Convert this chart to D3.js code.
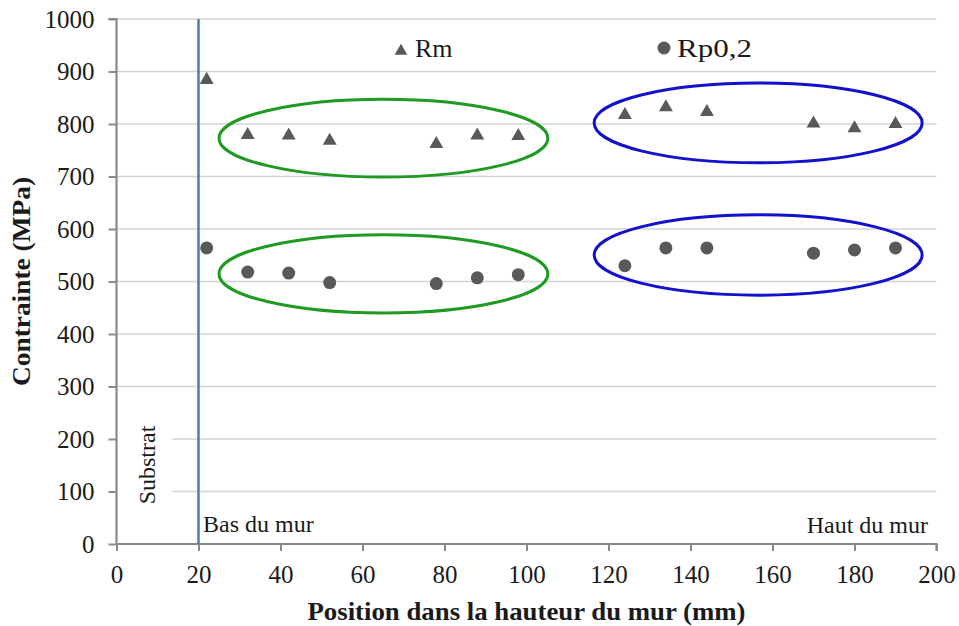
<!DOCTYPE html>
<html>
<head>
<meta charset="utf-8">
<script src="https://cdn.jsdelivr.net/npm/d3@7"></script>
<style>
  html, body { margin: 0; padding: 0; background: #fff; }
  svg { display: block; }
  text { font-family: "Liberation Serif", "Times New Roman", serif; fill: #1a1a1a; }
</style>
</head>
<body>
<svg id="chart" width="959" height="626"></svg>
<script>
// ---- data ----
const positions = [22, 32, 42, 52, 78, 88, 98, 124, 134, 144, 170, 180, 190];
const rmValues  = [884, 779, 778, 768, 762, 778, 777, 817, 832, 823, 801, 792, 800];
const rpValues  = [564, 518, 516, 498, 496, 507, 513, 530, 564, 564, 554, 560, 564];
const xTicks = [0, 20, 40, 60, 80, 100, 120, 140, 160, 180, 200];
const yTicks = [0, 100, 200, 300, 400, 500, 600, 700, 800, 900, 1000];
const substratPosition = 20;
// grouped zones (data units): xMin, xMax, yMin, yMax
const zoneGroups   = ["bas", "bas", "haut", "haut"];
const zoneXMin = [25, 25, 116.5, 116.5];
const zoneXMax = [105.2, 105.2, 196.5, 196.5];
const zoneYMin = [699, 440, 726, 474];
const zoneYMax = [847, 589, 878, 627];

// ---- layout ----
const W = 959, H = 626;
const margin = { top: 19, right: 22.5, bottom: 82, left: 116.5 };
const iw = W - margin.left - margin.right;
const ih = H - margin.top - margin.bottom;

const svg = d3.select("#chart");
const g = svg.append("g").attr("transform", `translate(${margin.left},${margin.top})`);

const x = d3.scaleLinear().domain([0, 200]).range([0, iw]);
const y = d3.scaleLinear().domain([0, 1000]).range([ih, 0]);

// gridlines
g.append("g").selectAll("line").data(yTicks.filter(d => d > 0)).join("line")
  .attr("x1", 0).attr("x2", iw)
  .attr("y1", d => y(d)).attr("y2", d => y(d))
  .attr("stroke", "#d3d3d3").attr("stroke-width", 1.6);

// white box behind "Substrat"
g.append("rect")
  .attr("x", 1).attr("y", y(235)).attr("width", 55).attr("height", y(25) - y(235))
  .attr("fill", "#fff");

// axes
const axisColor = "#8a8a8a";
const yAxis = g.append("g")
  .call(d3.axisLeft(y).tickValues(yTicks).tickSize(8).tickPadding(14).tickFormat(d3.format("d")));
const xAxis = g.append("g").attr("transform", `translate(0,${ih})`)
  .call(d3.axisBottom(x).tickValues(xTicks).tickSize(7).tickPadding(14).tickFormat(d3.format("d")));
[xAxis, yAxis].forEach(a => {
  a.select(".domain").attr("stroke", axisColor).attr("stroke-width", 2.2);
  a.selectAll(".tick line").attr("stroke", axisColor).attr("stroke-width", 2);
  a.selectAll(".tick text").style("font-family", '"Liberation Serif", "Times New Roman", serif')
    .style("font-size", "25px").attr("fill", "#1a1a1a");
});
yAxis.select(".domain").attr("d", `M-8,0H0V${ih}`);
xAxis.select(".domain").attr("d", `M0,0H${iw}V7`);

// substrat vertical line
g.append("line")
  .attr("x1", x(substratPosition)).attr("x2", x(substratPosition))
  .attr("y1", 0).attr("y2", ih)
  .attr("stroke", "#4a7ebb").attr("stroke-width", 2.5);

// zone ellipses
const zoneColors = { bas: "#1f9a22", haut: "#1212cc" };
g.append("g").selectAll("ellipse").data(zoneGroups).join("ellipse")
  .attr("cx", (d, i) => (x(zoneXMin[i]) + x(zoneXMax[i])) / 2)
  .attr("cy", (d, i) => (y(zoneYMin[i]) + y(zoneYMax[i])) / 2)
  .attr("rx", (d, i) => (x(zoneXMax[i]) - x(zoneXMin[i])) / 2)
  .attr("ry", (d, i) => (y(zoneYMin[i]) - y(zoneYMax[i])) / 2)
  .attr("fill", "none")
  .attr("stroke", d => zoneColors[d])
  .attr("stroke-width", 3);

// markers
const markerColor = "#595959";
const tri = d3.symbol().type(d3.symbolTriangle).size(84);
g.append("g").selectAll("path").data(positions).join("path")
  .attr("d", tri)
  .attr("transform", (d, i) => `translate(${x(d)},${y(rmValues[i])})`)
  .attr("fill", markerColor);
g.append("g").selectAll("circle").data(positions).join("circle")
  .attr("cx", d => x(d)).attr("cy", (d, i) => y(rpValues[i]))
  .attr("r", 6.5).attr("fill", markerColor);

// legend (inside plot)
svg.append("path").attr("d", d3.symbol().type(d3.symbolTriangle).size(70)())
  .attr("transform", "translate(401,51)").attr("fill", markerColor);
svg.append("text").attr("x", 415).attr("y", 57).style("font-size", "26px").text("Rm");
svg.append("circle").attr("cx", 664).attr("cy", 48).attr("r", 6.5).attr("fill", markerColor);
svg.append("text").attr("x", 677).attr("y", 57).style("font-size", "26px")
  .attr("textLength", 75).attr("lengthAdjust", "spacingAndGlyphs").text("Rp0,2");

// annotations
svg.append("text").attr("x", 203).attr("y", 532).style("font-size", "24px").text("Bas du mur");
svg.append("text").attr("x", 928).attr("y", 533).attr("text-anchor", "end").style("font-size", "24px").text("Haut du mur");
svg.append("text").attr("transform", "translate(155,465) rotate(-90)")
  .attr("text-anchor", "middle").style("font-size", "24px").text("Substrat");

// axis titles
svg.append("text").attr("x", margin.left + iw / 2).attr("y", 620)
  .attr("text-anchor", "middle").style("font-size", "26px").style("font-weight", "bold")
  .attr("textLength", 438).attr("lengthAdjust", "spacingAndGlyphs")
  .text("Position dans la hauteur du mur (mm)");
svg.append("text").attr("transform", `translate(30,${margin.top + ih / 2}) rotate(-90)`)
  .attr("text-anchor", "middle").style("font-size", "26px").style("font-weight", "bold")
  .attr("textLength", 209).attr("lengthAdjust", "spacingAndGlyphs")
  .text("Contrainte (MPa)");
</script>
</body>
</html>
